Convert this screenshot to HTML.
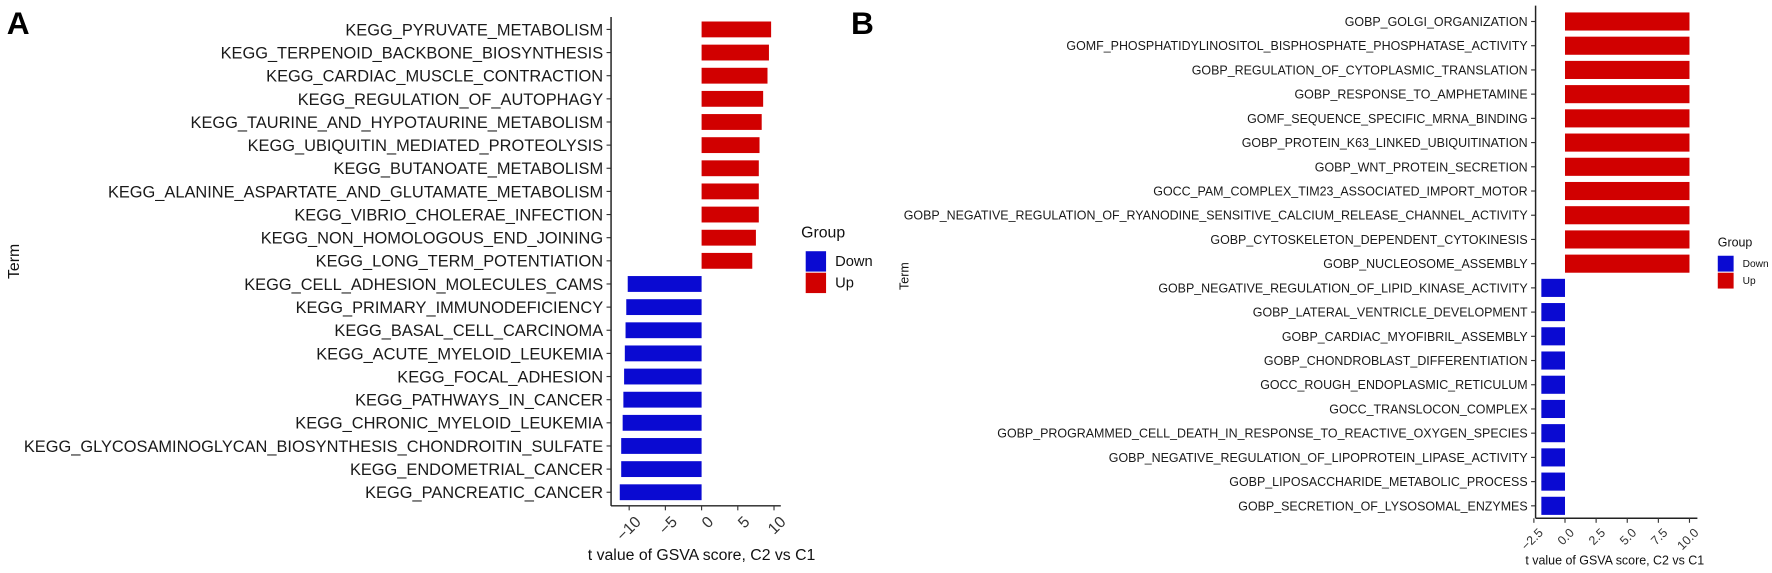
<!DOCTYPE html>
<html><head><meta charset="utf-8"><style>
html,body{margin:0;padding:0;background:#fff;}
svg{display:block;font-family:"Liberation Sans",Arial,sans-serif;}
</style></head><body>
<svg width="1772" height="573" viewBox="0 0 1772 573">
<g id="c" transform="scale(1.1316)">
<text x="6" y="30" font-size="28" font-weight="bold">A</text>
<text x="752" y="30" font-size="28" font-weight="bold">B</text>
</g>
</svg>
<script>
const termsA=["KEGG_PYRUVATE_METABOLISM","KEGG_TERPENOID_BACKBONE_BIOSYNTHESIS","KEGG_CARDIAC_MUSCLE_CONTRACTION","KEGG_REGULATION_OF_AUTOPHAGY","KEGG_TAURINE_AND_HYPOTAURINE_METABOLISM","KEGG_UBIQUITIN_MEDIATED_PROTEOLYSIS","KEGG_BUTANOATE_METABOLISM","KEGG_ALANINE_ASPARTATE_AND_GLUTAMATE_METABOLISM","KEGG_VIBRIO_CHOLERAE_INFECTION","KEGG_NON_HOMOLOGOUS_END_JOINING","KEGG_LONG_TERM_POTENTIATION","KEGG_CELL_ADHESION_MOLECULES_CAMS","KEGG_PRIMARY_IMMUNODEFICIENCY","KEGG_BASAL_CELL_CARCINOMA","KEGG_ACUTE_MYELOID_LEUKEMIA","KEGG_FOCAL_ADHESION","KEGG_PATHWAYS_IN_CANCER","KEGG_CHRONIC_MYELOID_LEUKEMIA","KEGG_GLYCOSAMINOGLYCAN_BIOSYNTHESIS_CHONDROITIN_SULFATE","KEGG_ENDOMETRIAL_CANCER","KEGG_PANCREATIC_CANCER"];
const valuesA=[9.6,9.3,9.1,8.5,8.3,8.0,7.9,7.9,7.9,7.5,7.0,-10.2,-10.4,-10.5,-10.6,-10.7,-10.8,-10.9,-11.1,-11.1,-11.3];
const ticksA=[-10,-5,0,5,10];
const tickLabelsA=["−10","−5","0","5","10"];
const termsB=["GOBP_GOLGI_ORGANIZATION","GOMF_PHOSPHATIDYLINOSITOL_BISPHOSPHATE_PHOSPHATASE_ACTIVITY","GOBP_REGULATION_OF_CYTOPLASMIC_TRANSLATION","GOBP_RESPONSE_TO_AMPHETAMINE","GOMF_SEQUENCE_SPECIFIC_MRNA_BINDING","GOBP_PROTEIN_K63_LINKED_UBIQUITINATION","GOBP_WNT_PROTEIN_SECRETION","GOCC_PAM_COMPLEX_TIM23_ASSOCIATED_IMPORT_MOTOR","GOBP_NEGATIVE_REGULATION_OF_RYANODINE_SENSITIVE_CALCIUM_RELEASE_CHANNEL_ACTIVITY","GOBP_CYTOSKELETON_DEPENDENT_CYTOKINESIS","GOBP_NUCLEOSOME_ASSEMBLY","GOBP_NEGATIVE_REGULATION_OF_LIPID_KINASE_ACTIVITY","GOBP_LATERAL_VENTRICLE_DEVELOPMENT","GOBP_CARDIAC_MYOFIBRIL_ASSEMBLY","GOBP_CHONDROBLAST_DIFFERENTIATION","GOCC_ROUGH_ENDOPLASMIC_RETICULUM","GOCC_TRANSLOCON_COMPLEX","GOBP_PROGRAMMED_CELL_DEATH_IN_RESPONSE_TO_REACTIVE_OXYGEN_SPECIES","GOBP_NEGATIVE_REGULATION_OF_LIPOPROTEIN_LIPASE_ACTIVITY","GOBP_LIPOSACCHARIDE_METABOLIC_PROCESS","GOBP_SECRETION_OF_LYSOSOMAL_ENZYMES"];
const valuesB=[10.0,10.0,10.0,10.0,10.0,10.0,10.0,10.0,10.0,10.0,10.0,-1.9,-1.9,-1.9,-1.9,-1.9,-1.9,-1.9,-1.9,-1.9,-1.9];
const ticksB=[-2.5,0,2.5,5,7.5,10];
const tickLabelsB=["−2.5","0.0","2.5","5.0","7.5","10.0"];

const svg=document.getElementById('c');
const NS="http://www.w3.org/2000/svg";
function mk(tag,attrs,txt){const e=document.createElementNS(NS,tag);for(const k in attrs)e.setAttribute(k,attrs[k]);if(txt!=null)e.textContent=txt;svg.appendChild(e);return e;}

function panel(p,terms,values,ticks,tickLabels,id){
  const xs=v=>p.x0+(v)*p.k;
  const ys=i=>p.yFirst+i*p.step;
  values.forEach((v,i)=>{
    const x=Math.min(xs(0),xs(v)),w=Math.abs(xs(v)-xs(0));
    const r=mk('rect',{x:x,y:ys(i)-p.bh/2,width:w,height:p.bh,fill:v>=0?'#d10000':'#0a0ad2'});
    
    
    const t=mk('text',{x:p.axX-7,y:ys(i)+p.fs*0.36,'font-size':p.fs,'text-anchor':'end',fill:'#1a1a1a'},terms[i]);
    
    
    mk('line',{x1:p.axX-4,x2:p.axX,y1:ys(i),y2:ys(i),stroke:'#333','stroke-width':1});
  });
  const ya=mk('line',{x1:p.axX,x2:p.axX,y1:p.top,y2:p.axY,stroke:'#222','stroke-width':1.3});
  
  
  const xa=mk('line',{x1:p.axX,x2:p.axR,y1:p.axY,y2:p.axY,stroke:'#222','stroke-width':1.3});
  
  
  ticks.forEach((v,i)=>{
    mk('line',{x1:xs(v),x2:xs(v),y1:p.axY,y2:p.axY+4,stroke:'#333','stroke-width':1});
    const tx=xs(v)+p.fs*0.3,ty=p.axY+8;
    const t=mk('text',{x:tx,y:ty,'font-size':p.tfs,'text-anchor':'end',fill:'#333',transform:`rotate(-45 ${tx} ${ty})`,dy:p.tfs*0.7},tickLabels[i]);
    
    
  });
  const xt=mk('text',{x:p.xtX,y:p.xtY,'font-size':p.tfs,'text-anchor':'middle',fill:'#111'},'t value of GSVA score, C2 vs C1');
  
  
  const yt=mk('text',{x:p.ytX,y:p.ytY,'font-size':p.tfs,'text-anchor':'middle',fill:'#111',transform:`rotate(-90 ${p.ytX} ${p.ytY})`},'Term');
  
  
  const lg=mk('text',{x:p.lx,y:p.ly,'font-size':p.tfs,fill:'#111'},'Group');
  
  
  [['Down','#0a0ad2'],['Up','#d10000']].forEach((g,j)=>{
    const ky=p.ly+p.kgap+j*(p.ks+1);
    const r=mk('rect',{x:p.lx+p.koff,y:ky,width:p.ks,height:p.ks,fill:g[1]});
    
    
    const t=mk('text',{x:p.lx+p.koff+p.ks+8,y:ky+p.ks*0.72,'font-size':p.lfs,fill:'#111'},g[0]);
    
    
  });
}
panel({x0:620,k:6.4,yFirst:26,step:20.45,bh:14,axX:540,axR:690,axY:447,top:15,fs:14.5,tfs:14,xtX:620,xtY:495,ytX:17,ytY:231,lx:708,ly:210,kgap:12,ks:18,koff:4,lfs:13},termsA,valuesA,ticksA,tickLabelsA,'a');
panel({x0:1383,k:11,yFirst:19,step:21.4,bh:16,axX:1357,axR:1500,axY:458,top:5,fs:11,tfs:11,xtX:1427,xtY:499,ytX:803,ytY:244,lx:1518,ly:218,kgap:8,ks:14,koff:0,lfs:9},termsB,valuesB,ticksB,tickLabelsB,'b');
</script>
</body></html>
